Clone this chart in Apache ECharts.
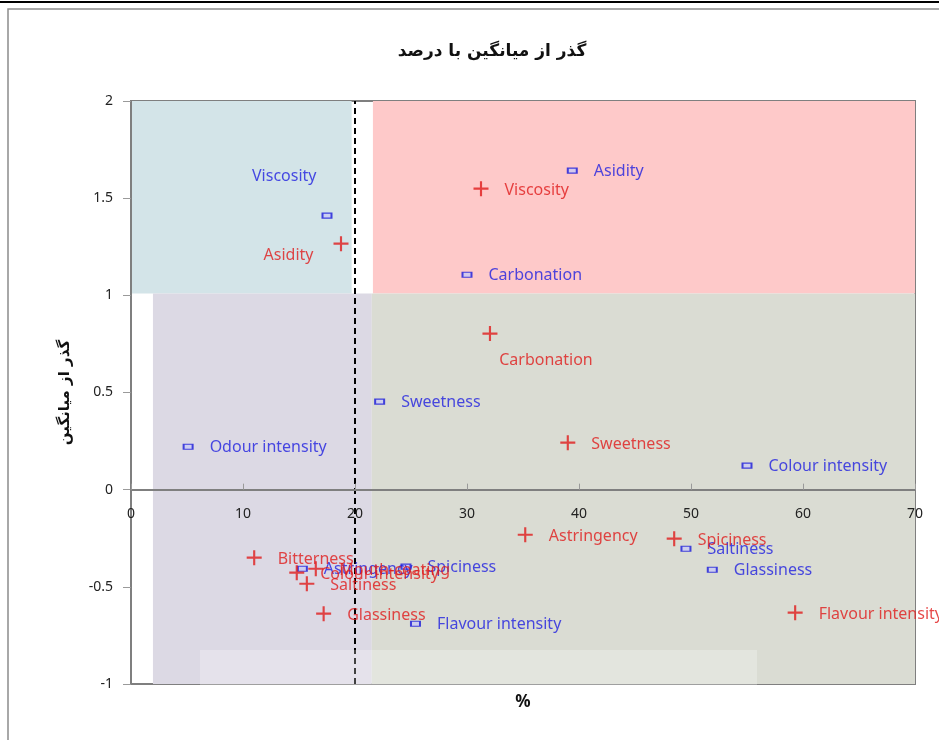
<!DOCTYPE html>
<html>
<head>
<meta charset="utf-8">
<script src="https://cdn.jsdelivr.net/npm/echarts@6/dist/echarts.min.js"></script>
<style>
  html, body { margin: 0; padding: 0; background: #fff; }
  #chart { width: 939px; height: 740px; }
</style>
</head>
<body>
<div id="chart"></div>
<script>
// سری قرمز (+)
var redNames = ['Viscosity', 'Asidity', 'Carbonation', 'Sweetness', 'Astringency', 'Spiciness',
    'Flavour intensity', 'Bitterness', 'Colour intensity', 'Mouth-coating', 'Saltiness', 'Glassiness'];
var redX = [31.25, 18.75, 32.05, 39.0, 35.2, 48.5, 59.3, 11.0, 14.8, 16.5, 15.7, 17.2];
var redY = [1.549, 1.266, 0.803, 0.242, -0.232, -0.252, -0.633, -0.35, -0.427, -0.407, -0.484, -0.638];

// سری آبی (-)
var blueNames = ['Viscosity', 'Asidity', 'Carbonation', 'Sweetness', 'Odour intensity', 'Colour intensity',
    'Saltiness', 'Glassiness', 'Flavour intensity', 'Spiciness', 'Astringency'];
var blueX = [17.5, 39.4, 30.0, 22.2, 5.1, 55.0, 49.55, 51.9, 25.4, 24.55, 15.3];
var blueY = [1.41, 1.642, 1.106, 0.453, 0.221, 0.124, -0.304, -0.412, -0.69, -0.396, -0.407];

var xTicks = [0, 10, 20, 30, 40, 50, 60, 70];
var yTicks = [-1, -0.5, 0, 0.5, 1, 1.5, 2];
var meanLine = 20;

var font = '"Noto Sans", "DejaVu Sans", sans-serif';
var faFont = '"DejaVu Sans", sans-serif';
var plus = 'path://M6,0H8V6H14V8H8V14H6V8H0V6H6Z';

var labelFix = {
    red: {
        'Asidity': { position: 'left', distance: 8, offset: [-12, 12] },
        'Carbonation': { position: 'bottom', distance: 5, offset: [56, 6] }
    },
    blue: {
        'Viscosity': { position: 'left', distance: 5, offset: [0, -39] }
    }
};

function build(names, xs, ys, fix) {
    var out = [];
    for (var i = 0; i < names.length; i++) {
        var item = { name: names[i], value: [xs[i], ys[i]] };
        if (fix[names[i]]) item.label = fix[names[i]];
        out.push(item);
    }
    return out;
}

// محور x روی صفر: فاصله از پایین نمودار
var gridTop = 101, gridH = 583;
var zeroShift = gridH * (0 - yTicks[0]) / (yTicks[yTicks.length - 1] - yTicks[0]);

var chart = echarts.init(document.getElementById('chart'));
var option = {
    animation: false,
    backgroundColor: '#fff',
    title: {
        text: 'گذر از میانگین با درصد',
        left: 487,
        top: 38,
        textAlign: 'center',
        textStyle: { fontFamily: faFont, fontWeight: 'bold', fontSize: 17, color: '#111' }
    },
    graphic: [
        { type: 'line', shape: { x1: 0, y1: 2, x2: 939, y2: 2 }, style: { stroke: '#000', lineWidth: 2 }, z: 100 },
        { type: 'rect', shape: { x: 8, y: 9, width: 940, height: 740 }, style: { fill: 'none', stroke: '#8c8c8c', lineWidth: 1.5 }, z: 100 },
        { type: 'rect', shape: { x: 200, y: 650, width: 557, height: 90 }, style: { fill: 'rgba(255,255,255,0.25)' }, z: 50 }
    ],
    grid: {
        left: 131, top: gridTop, right: 24, height: gridH,
        containLabel: false, outerBoundsMode: 'none',
        show: true, borderColor: '#7f7f7f', borderWidth: 2, backgroundColor: 'transparent'
    },
    xAxis: {
        type: 'value', min: xTicks[0], max: xTicks[xTicks.length - 1], interval: 10,
        offset: -zeroShift,
        name: '%', nameLocation: 'middle', nameGap: 204, z: 60,
        nameTextStyle: { fontFamily: font, fontWeight: 'bold', fontSize: 17, color: '#111' },
        axisLine: { onZero: false, lineStyle: { color: '#7f7f7f', width: 2 } },
        axisTick: { show: true, inside: true, length: 6, lineStyle: { color: '#9a9a9a' } },
        axisLabel: { margin: 17, fontFamily: font, fontSize: 14, color: '#222' },
        splitLine: { show: false }
    },
    yAxis: {
        type: 'value', min: yTicks[0], max: yTicks[yTicks.length - 1], interval: 0.5,
        name: 'گذر از میانگین', nameLocation: 'middle', nameGap: 58, nameRotate: 90, z: 10,
        nameTextStyle: { fontFamily: faFont, fontWeight: 'bold', fontSize: 15, color: '#111' },
        axisLine: { onZero: false, lineStyle: { color: '#7f7f7f', width: 2 } },
        axisTick: { show: true, length: 8, lineStyle: { color: '#9a9a9a' } },
        axisLabel: { margin: 18, fontFamily: font, fontSize: 14, color: '#222' },
        splitLine: { show: false }
    },
    series: [
        {
            name: 'bg',
            type: 'scatter',
            data: [],
            clip: false,
            silent: true,
            markArea: {
                silent: true,
                data: [
                    [{ coord: [-0.36, 2], itemStyle: { color: '#d3e4e8' } }, { coord: [19.7, 1.01] }],
                    [{ coord: [21.6, 2], itemStyle: { color: '#fec9c9' } }, { coord: [71.9, 1.01] }],
                    [{ coord: [1.96, 1.01], itemStyle: { color: '#dcd9e4' } }, { coord: [21.5, -1] }],
                    [{ coord: [21.5, 1.01], itemStyle: { color: '#dadcd3' } }, { coord: [71.9, -1] }]
                ]
            },
            markLine: {
                silent: true,
                symbol: 'none',
                label: { show: false },
                lineStyle: { color: '#000', type: [6, 4], width: 2 },
                data: [{ xAxis: meanLine }]
            },
            z: 1
        },
        {
            name: 'blue',
            type: 'scatter',
            symbol: 'rect',
            symbolSize: [9, 5],
            itemStyle: { color: '#c9cbf5', borderColor: '#1a1ad8', borderWidth: 1.5 },
            label: {
                show: true, position: 'right', distance: 16, offset: [0, 1],
                formatter: '{b}', fontFamily: font, fontSize: 16, color: '#2020e0'
            },
            data: build(blueNames, blueX, blueY, labelFix.blue),
            z: 5
        },
        {
            name: 'red',
            type: 'scatter',
            symbol: plus,
            symbolSize: 15,
            itemStyle: { color: '#e01b1b' },
            label: {
                show: true, position: 'right', distance: 16, offset: [0, 2],
                formatter: '{b}', fontFamily: font, fontSize: 16, color: '#e01b1b'
            },
            data: build(redNames, redX, redY, labelFix.red),
            z: 6
        }
    ]
};
chart.setOption(option);
</script>
</body>
</html>
